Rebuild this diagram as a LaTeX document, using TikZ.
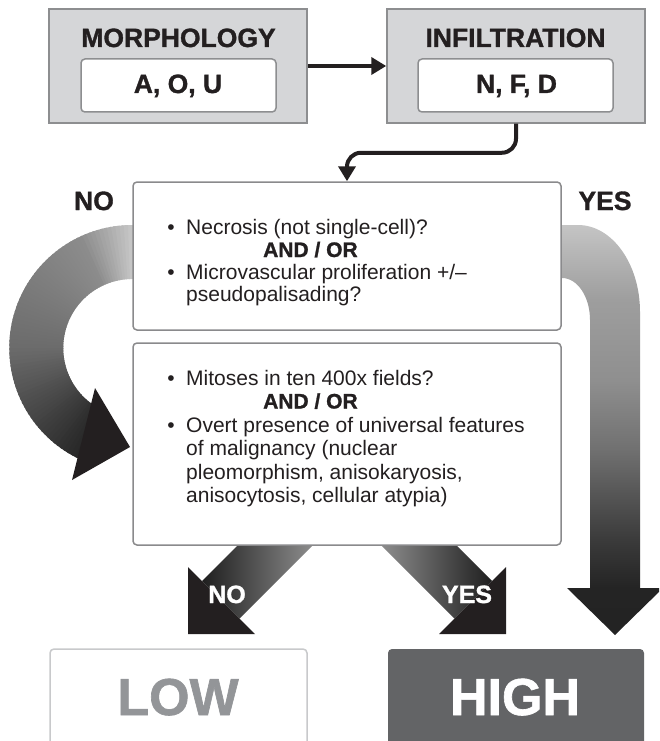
\documentclass[tikz,border=0pt]{standalone}
\usepackage{fontspec}
\setmainfont{Liberation Sans}
\newfontfamily\heavy[FakeBold=1.2]{Liberation Sans Bold}
\usetikzlibrary{arrows.meta,backgrounds,calc}
\definecolor{ink}{HTML}{231F20}
\definecolor{hdrfill}{HTML}{D5D6D8}
\definecolor{hdrline}{HTML}{8D8E90}
\definecolor{boxline}{HTML}{8A8A8C}
\definecolor{lowline}{HTML}{C8C9CB}
\definecolor{lowtext}{HTML}{939598}
\definecolor{highfill}{HTML}{636466}
\pgfdeclareverticalshading{yesgrad}{100bp}{color(0bp)=(black!87); color(30.7bp)=(black!86); color(36.6bp)=(black!77); color(47.6bp)=(black!56); color(56bp)=(black!44); color(66bp)=(black!38); color(75bp)=(black!23); color(100bp)=(black!23)}
\begin{document}
\begin{tikzpicture}[x=1pt,y=-1pt,
  hdr/.style={draw=hdrline, fill=hdrfill, line width=1.5pt, minimum width=258pt, minimum height=114pt, inner sep=0pt},
  inbox/.style={draw=hdrline, fill=white, line width=1.5pt, rounded corners=4pt, minimum width=195pt, minimum height=53pt, inner sep=0pt},
  qbox/.style={draw=boxline, fill=white, line width=1.5pt, rounded corners=4pt, minimum width=428pt, inner sep=0pt},
  headtxt/.style={font=\heavy\fontsize{26.5}{30}\selectfont, text=ink, inner sep=0pt, anchor=base},
  body/.style={font=\fontsize{21}{24}\selectfont, text=ink, inner sep=0pt, anchor=base west},
  bul/.style={font=\fontsize{21}{24}\selectfont, text=ink, inner sep=0pt, anchor=base},
  andor/.style={font=\heavy\fontsize{21}{24}\selectfont, text=ink, inner sep=0pt, anchor=base west},
  conn/.style={draw=ink, line width=4pt, -{Triangle[length=15pt,width=17pt]}},
  arrowlbl/.style={font=\heavy\fontsize{25}{28}\selectfont, text=white, inner sep=0pt, anchor=base},
  bigword/.style={font=\heavy\fontsize{52}{56}\selectfont, inner sep=0pt, anchor=base},
]
\useasboundingbox (0,0) rectangle (659,741);
\clip (0,0) rectangle (659,741);

% header boxes
\node[hdr] (morph) at (178,66) {};
\node[hdr] (infil) at (516,66) {};
\node[inbox] (aou) at (178.5,85.5) {};
\node[inbox] (nfd) at (515.5,85.5) {};
\node[headtxt] (morphT) at (178.5,47) {MORPHOLOGY};
\node[headtxt] (infilT) at (515.5,47) {INFILTRATION};
\node[headtxt] (aouT) at (178,93) {A, O, U};
\node[headtxt] (nfdT) at (516.5,93) {N, F, D};
\draw[conn] (morph.east) -- (infil.west);

% question boxes
\node[qbox, minimum height=148pt] (q1) at (347,256) {};
\node[qbox, minimum height=202pt] (q2) at (347,444) {};
\draw[conn, rounded corners=14pt] (infil.south) -- ++(0,29) -| (q1.north);

\node[bul] (b1) at (171,234) {\textbullet};
\node[body] (l1) at (186,234) {Necrosis (not single-cell)?};
\node[andor] (ao1) at (263,257) {AND / OR};
\node[bul] (b2) at (171,279) {\textbullet};
\node[body] (l2) at (186,279) {Microvascular proliferation +/–};
\node[body] (l3) at (186,301) {pseudopalisading?};

\node[bul] (b3) at (171,385) {\textbullet};
\node[body] (m1) at (186,385) {Mitoses in ten 400x fields?};
\node[andor] (ao2) at (263,408.5) {AND / OR};
\node[bul] (b4) at (171,432) {\textbullet};
\node[body] (m2) at (186,432) {Overt presence of universal features};
\node[body] (m3) at (186,455.5) {of malignancy (nuclear};
\node[body] (m4) at (186,479) {pleomorphism, anisokaryosis,};
\node[body] (m5) at (186,502.5) {anisocytosis, cellular atypia)};

\node[headtxt] (noL) at (94,210) {NO};
\node[headtxt] (yesR) at (605,210) {YES};

% results
\node[draw=lowline, line width=1.5pt, rounded corners=4pt, fill=white, minimum width=257pt, minimum height=111pt] (low) at (178.5,704.5) {};
\node[fill=highfill, rounded corners=4pt, minimum width=256pt, minimum height=111pt] (high) at (516,704.5) {};
\node[bigword, text=lowtext] (lowT) at (178,715) {LOW};
\node[bigword, text=white] (highT) at (515,715) {HIGH};

% big gradient arrows (behind the boxes)
\begin{scope}[on background layer]
\clip (0,0) rectangle (659,741);
\coordinate (C) at (q1.west |- 0,348);
\fill[black!23] ($(C)+(0,-123)$) rectangle ($(C)+(12,-69)$);
\foreach \p in {90,92,...,244}{
  \pgfmathsetmacro\q{\p+1}
  \pgfmathsetmacro\g{\q<115 ? 0.78-0.0092*(\q-90) : (\q<180 ? 0.55-0.002*(\q-115) : 0.42-0.0042*(\q-180))}
  \definecolor{segc}{gray}{\g}
  \fill[segc] ($(C)+(-\p:123)$) arc[start angle=-\p, end angle={-\p-3}, radius=123]
     -- ($(C)+({-\p-3}:69)$) arc[start angle={-\p-3}, end angle=-\p, radius=69] -- cycle;
}
\fill[ink] (95,388) -- (130,447) -- (72,480) -- cycle;

\shade[shading=yesgrad] (555,225) -- (578,225) arc[start angle=-90, end angle=0, x radius=62, y radius=87]
   -- (640,588) -- (663,588) -- (615,635) -- (567,588) -- (590,588) -- (590,320)
   arc[start angle=0, end angle=-90, x radius=28, y radius=42] -- (555,278) -- cycle;

\shade[left color=black!88, right color=black!42] (245,538) -- (320,538) -- (239.5,618.5) -- (202,581) -- cycle;
\fill[ink] (255,634) -- (188,634) -- (188,567) -- cycle;
\shade[left color=black!42, right color=black!88] (449,538) -- (374,538) -- (454.5,618.5) -- (492,581) -- cycle;
\fill[ink] (439,634) -- (506,634) -- (506,567) -- cycle;
\end{scope}

\node[arrowlbl] (noA) at (227,603) {NO};
\node[arrowlbl] (yesA) at (467,603) {YES};
\end{tikzpicture}
\end{document}
